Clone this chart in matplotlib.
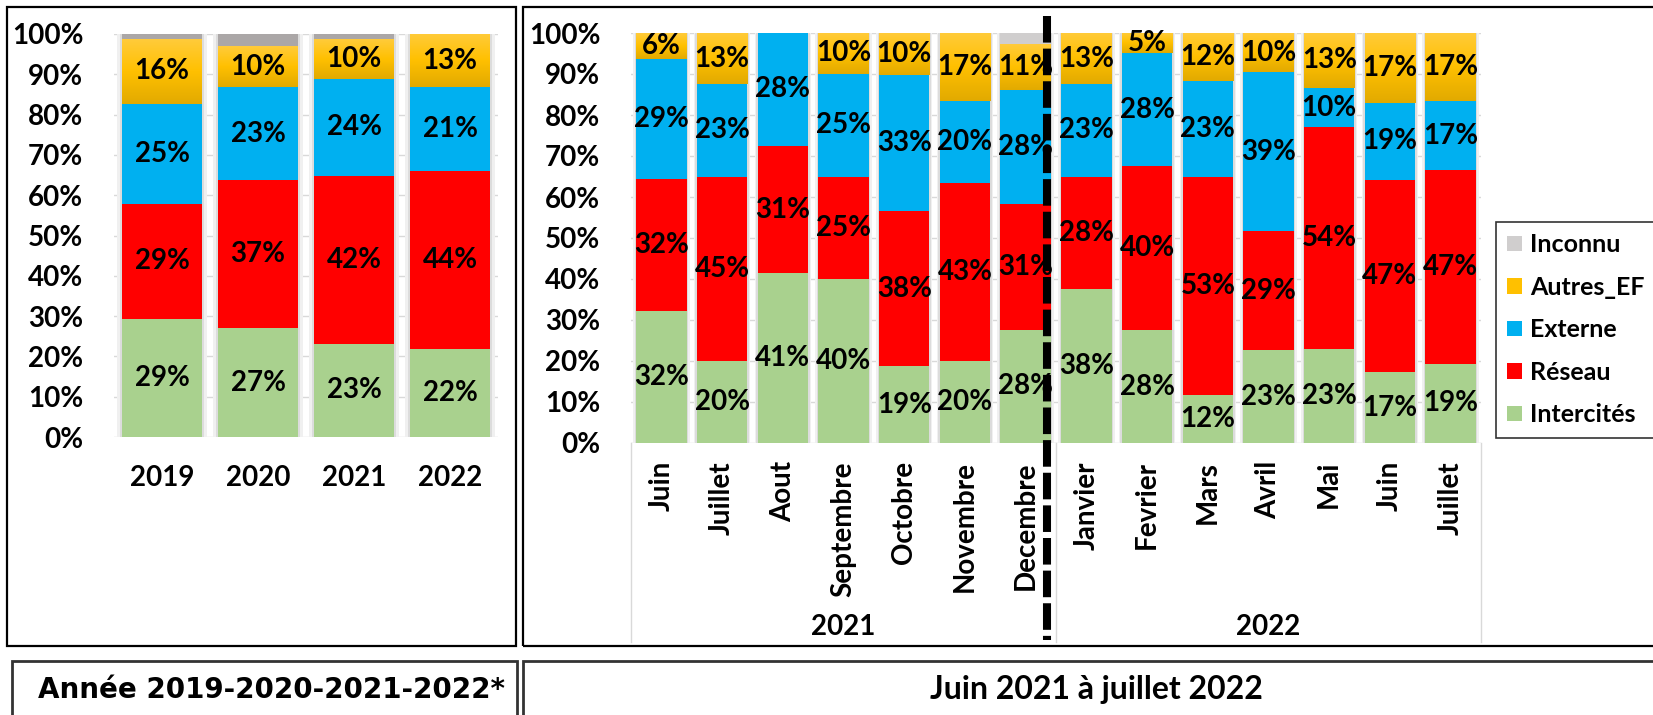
import matplotlib.pyplot as plt
import matplotlib.transforms as mtransforms
from matplotlib.patches import Rectangle, Patch
from matplotlib.lines import Line2D
from matplotlib.colors import LinearSegmentedColormap
import numpy as np

# ---- data : annual shares (%)
years = ['2019', '2020', '2021', '2022']
an_intercites = [29.3, 27.0, 23.2, 21.8]
an_reseau = [28.6, 36.7, 41.6, 44.1]
an_externe = [24.8, 23.2, 24.1, 20.9]
an_autres = [16.1, 10.0, 9.7, 13.2]
an_inconnu = [1.2, 3.1, 1.4, 0.0]

# ---- data : monthly shares (%), juin 2021 -> juillet 2022
months = ['Juin', 'Juillet', 'Aout', 'Septembre', 'Octobre', 'Novembre', 'Decembre',
          'Janvier', 'Fevrier', 'Mars', 'Avril', 'Mai', 'Juin', 'Juillet']
m_intercites = [32.1, 19.9, 41.4, 40.0, 18.7, 19.9, 27.6, 37.5, 27.5, 11.6, 22.6, 22.9, 17.2, 19.3]
m_reseau = [32.4, 45.1, 31.1, 25.0, 37.8, 43.4, 30.7, 27.5, 40.0, 53.4, 29.0, 54.1, 47.0, 47.4]
m_externe = [29.2, 22.5, 27.5, 25.1, 33.3, 20.0, 27.9, 22.5, 27.6, 23.2, 38.8, 9.6, 18.7, 16.6]
m_autres = [6.3, 12.5, 0.0, 9.9, 10.2, 16.7, 11.0, 12.5, 4.9, 11.8, 9.6, 13.4, 17.1, 16.7]
m_inconnu = [0, 0, 0, 0, 0, 0, 2.8, 0, 0, 0, 0, 0, 0, 0]
month_years = ['2021', '2022']

names = ['Intercités', 'Réseau', 'Externe', 'Autres_EF', 'Inconnu']
colors = ['#A9D18E', '#FF0000', '#00B0F0', '#FFC000', '#BFBFBF']

plt.rcParams['font.family'] = ['Lato', 'DejaVu Sans']
FS = 20

W, H = 1653, 715
fig = plt.figure(figsize=(W / 100, H / 100), dpi=100)

gold = LinearSegmentedColormap.from_list('gold', ['#E2AA00', '#FFC000', '#FFCB3A'])
grad = np.linspace(0, 1, 64).reshape(-1, 1)


def box(x0, y0, x1, y1, lw=1.6, color='black'):
    fig.add_artist(Rectangle((x0 / W, 1 - y1 / H), (x1 - x0) / W, (y1 - y0) / H,
                             transform=fig.transFigure, fill=False, lw=lw,
                             edgecolor=color, clip_on=False))


def panel(rect, series, inconnu_color):
    ax = fig.add_axes(rect)
    n = len(series[0])
    x = np.arange(n)
    w = 0.83
    tot = np.sum(series, axis=0)
    # soft shadow around the bars
    ax.bar(x, tot, w + 0.10, color='#F0F0F0', zorder=1.5)
    ax.bar(x, tot, w + 0.05, color='#DCDCDC', zorder=1.6)
    bottom = np.zeros(n)
    for name, vals, col in zip(names, series, colors):
        vals = np.array(vals, dtype=float)
        if name == 'Inconnu':
            col = inconnu_color
        bars = ax.bar(x, vals, w, bottom=bottom, color=col, zorder=3)
        if name == 'Autres_EF':
            for b in bars:
                if b.get_height() > 0:
                    ax.imshow(grad, extent=(b.get_x(), b.get_x() + w, b.get_y(), b.get_y() + b.get_height()),
                              aspect='auto', cmap=gold, origin='lower', zorder=3.1, interpolation='bilinear')
        if name != 'Inconnu':
            for xi, v, b0 in zip(x, vals, bottom):
                if v > 0:
                    ax.text(xi, b0 + v / 2, f'{int(v + 0.5)}%', ha='center', va='center',
                            fontsize=FS, fontweight='bold', color='black', zorder=5)
        bottom += vals
    ax.set_xlim(-0.5, n - 0.5)
    ax.set_ylim(0, 100)
    ax.set_yticks(range(0, 101, 10))
    ax.set_yticklabels([f'{v}%' for v in range(0, 101, 10)], fontsize=FS, fontweight='bold')
    ax.tick_params(axis='y', length=0, pad=22)
    ax.set_xticks([])
    ax.yaxis.grid(True, color='#D9D9D9', lw=1)
    ax.set_axisbelow(True)
    for s in ax.spines.values():
        s.set_visible(False)
    return ax


# frames
box(7, 7, 516, 646)
box(523, 7, 1700, 646)
box(12, 661, 517, 760, lw=2, color='#333333')
box(523, 661, 1700, 760, lw=2, color='#333333')

# left panel
ax1 = panel([114 / W, 1 - 437 / H, 384 / W, 403 / H],
            [an_intercites, an_reseau, an_externe, an_autres, an_inconnu], '#ABA7A7')
tr1 = mtransforms.blended_transform_factory(ax1.transData, ax1.transAxes)
for i, yr in enumerate(years):
    ax1.text(i, -0.102, yr, transform=tr1, ha='center', va='center', fontsize=FS, fontweight='bold')

# right panel
ax2 = panel([631 / W, 1 - 443 / H, 850 / W, 410 / H],
            [m_intercites, m_reseau, m_externe, m_autres, m_inconnu], '#D0CECE')
tr2 = mtransforms.blended_transform_factory(ax2.transData, ax2.transAxes)
for i, m in enumerate(months):
    ax2.text(i, -0.044, m, transform=tr2, rotation=90, ha='center', va='top',
             fontsize=FS, fontweight='bold')
ax2.text(3, -0.449, month_years[0], transform=tr2, ha='center', va='center', fontsize=FS, fontweight='bold')
ax2.text(10, -0.449, month_years[1], transform=tr2, ha='center', va='center', fontsize=FS, fontweight='bold')
for xs in (-0.5, 6.5, 13.5):
    ax2.add_line(Line2D([xs, xs], [0, -0.485], transform=tr2, color='#D9D9D9', lw=1, clip_on=False))

# year separator
ax2.add_line(Line2D([6.35, 6.35], [1.041, -0.48], transform=tr2, color='black', lw=5.8,
                    linestyle=(0, (3.3, 0.75)), clip_on=False, zorder=10))

# legend
handles = [Patch(facecolor=c, label=l) for l, c in
           zip(['Inconnu', 'Autres_EF', 'Externe', 'Réseau', 'Intercités'],
               ['#D0CECE', '#FFC000', '#00B0F0', '#FF0000', '#A9D18E'])]
leg = fig.legend(handles=handles, loc='upper left', bbox_to_anchor=(1496 / W, 1 - 222 / H),
                 frameon=True, fancybox=False, edgecolor='black',
                 prop={'size': 18, 'weight': 'bold'}, handlelength=0.6, handleheight=0.6,
                 handletextpad=0.3, labelspacing=0.78, borderpad=0.45, borderaxespad=0)
leg.get_frame().set_linewidth(1.2)

# captions
fig.text(272 / W, 1 - 690 / H, 'Année 2019-2020-2021-2022*', ha='center', va='center',
         fontsize=20, fontweight='bold', family='DejaVu Sans')
fig.text(1096 / W, 1 - 690 / H, 'Juin 2021 à juillet 2022', ha='center', va='center',
         fontsize=23, fontweight='bold')

fig.savefig('out.png', dpi=100)
